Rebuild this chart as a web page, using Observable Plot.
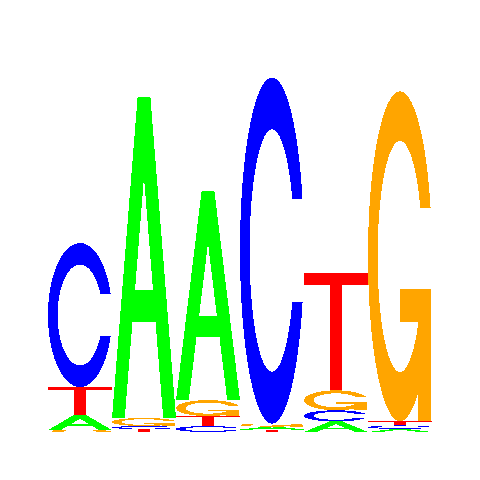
<!DOCTYPE html>
<html>
<head>
<meta charset="utf-8">
<script src="https://cdn.jsdelivr.net/npm/d3@7"></script>
<script src="https://cdn.jsdelivr.net/npm/@observablehq/plot@0.6"></script>
<style>body{margin:0;background:#fff}</style>
</head>
<body>
<div id="chart"></div>
<script>
// information content (bits) per base at each motif position
const positions = [1, 2, 3, 4, 5, 6];
const bases = ["A", "C", "G", "T"];
const bitsA = [0.078, 1.672, 1.089, 0.015, 0.055, 0.016];
const bitsC = [0.750, 0.016, 0.031, 1.802, 0.058, 0.018];
const bitsG = [0.010, 0.042, 0.083, 0.016, 0.104, 1.719];
const bitsT = [0.146, 0.015, 0.052, 0.013, 0.609, 0.021];
const baseColors = {A: "#00ff00", C: "#0000ff", G: "#ffa500", T: "#ff0000"};

const bitsByBase = {A: bitsA, C: bitsC, G: bitsG, T: bitsT};

// stack each column, smallest letter at the bottom
const letters = positions.flatMap((p, i) => {
  const col = bases
    .map(b => ({pos: p, base: b, bits: bitsByBase[b][i]}))
    .sort((a, b) => a.bits - b.bits);
  let y = 0;
  return col.map(d => ({...d, y1: y, y2: (y += d.bits)}));
});

// letter shapes in a unit box (y up), same construction as seqLogo
function ringPts() {
  const a1 = d3.range(100).map(i => 0.3 + Math.PI / 2 + i * (Math.PI / 2 - 0.3) / 99);
  const a2 = d3.range(100).map(i => Math.PI + i * (Math.PI / 2) / 99);
  const xl = [...a1, ...a2].map(a => 0.5 + 0.5 * Math.sin(a));
  const yl = [...a1, ...a2].map(a => 0.5 + 0.5 * Math.cos(a));
  const h = 0.5 + 0.5 * Math.cos(a1[0]);
  const outX = [...xl, ...xl.slice().reverse()];
  const outY = [...yl, ...yl.slice().reverse().map(v => 1 - v)];
  let xi1 = a1.map(a => 0.5 + 0.35 * Math.sin(a));
  let yi1 = a1.map(a => 0.5 + 0.35 * Math.cos(a));
  const keep = yi1.map(v => v <= h);
  xi1 = xi1.filter((_, i) => keep[i]);
  yi1 = yi1.filter((_, i) => keep[i]);
  yi1[0] = h;
  const xi = [...xi1, ...a2.map(a => 0.5 + 0.35 * Math.sin(a))];
  const yi = [...yi1, ...a2.map(a => 0.5 + 0.35 * Math.cos(a))];
  const inX = [...xi, ...xi.slice().reverse()];
  const inY = [...yi, ...yi.slice().reverse().map(v => 1 - v)];
  const X = [...outX, ...inX.reverse()];
  const Y = [...outY, ...inY.reverse()];
  return {pts: X.map((x, i) => [x, Y[i]]), r1: xl[0]};
}
const toPath = pts => "M" + pts.map(([x, y]) => `${x},${1 - y}`).join("L") + "Z";
const ring = ringPts();
const glyphs = {
  A: [toPath([[0, 0], [0.4, 1], [0.6, 1], [1, 0], [0.8, 0], [0.68, 0.3], [0.32, 0.3], [0.2, 0]])
      + toPath([[0.36, 0.4], [0.5, 0.75], [0.64, 0.4]])],
  C: [toPath(ring.pts)],
  G: [toPath(ring.pts),
      toPath([[ring.r1, 0.4], [0.5, 0.4], [0.5, 0.3], [ring.r1 - 0.2, 0.3], [ring.r1 - 0.2, 0], [ring.r1, 0]])],
  T: [toPath([[0, 1], [1, 1], [1, 0.9], [0.6, 0.9], [0.6, 0], [0.4, 0], [0.4, 0.9], [0, 0.9]])]
};

function logo(index, {x, y}) {
  const g = d3.create("svg:g").attr("shape-rendering", "crispEdges");
  for (const d of letters) {
    const x1 = x(d.pos - 0.5), x2 = x(d.pos + 0.5);
    const top = y(d.y2), bot = y(d.y1);
    const lg = g.append("g")
      .attr("transform", `translate(${x1},${top}) scale(${x2 - x1},${bot - top})`)
      .attr("fill", baseColors[d.base]);
    for (const p of glyphs[d.base]) lg.append("path").attr("d", p).attr("fill-rule", "evenodd");
  }
  return g.node();
}

const chart = Plot.plot({
  width: 480,
  height: 480,
  marginTop: 48,
  marginBottom: 48,
  marginLeft: 48,
  marginRight: 48,
  style: {background: "#fff"},
  x: {domain: [0.5, 6.5], axis: null},
  y: {domain: [0, 2], axis: null},
  marks: [
    Plot.rect(letters, {x1: d => d.pos - 0.5, x2: d => d.pos + 0.5, y1: "y1", y2: "y2", fill: "none"}),
    logo
  ]
});
document.getElementById("chart").append(chart);
</script>
</body>
</html>
